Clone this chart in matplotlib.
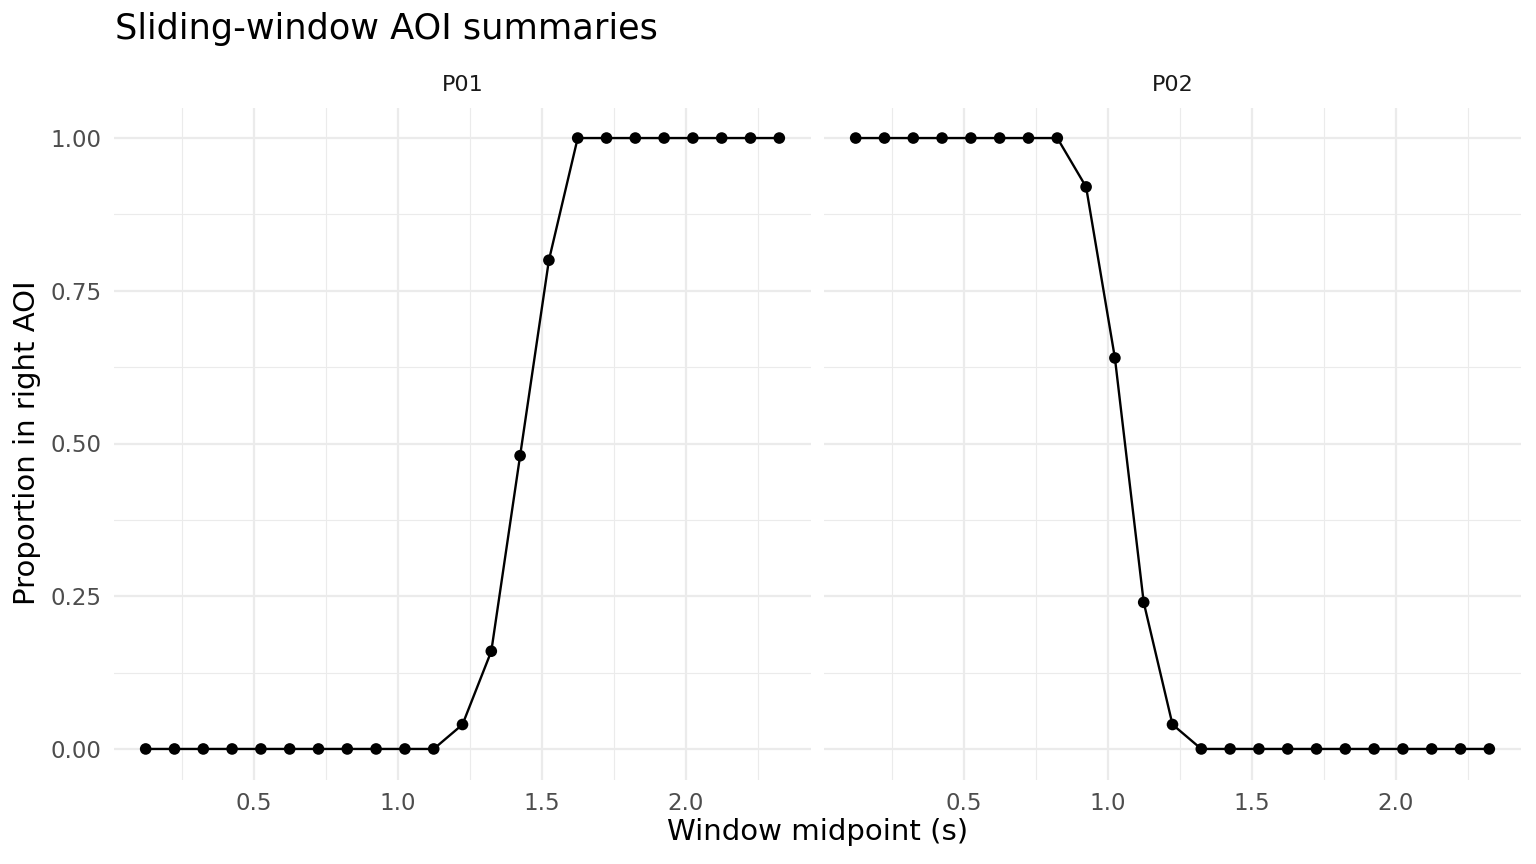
import numpy as np
import matplotlib.pyplot as plt

# window midpoints (s), same for both participants
midpoints = [0.125, 0.225, 0.325, 0.425, 0.525, 0.625, 0.725, 0.825, 0.925, 1.025, 1.125,
             1.225, 1.325, 1.425, 1.525, 1.625, 1.725, 1.825, 1.925, 2.025, 2.125, 2.225, 2.325]

p01_prop = [0, 0, 0, 0, 0, 0, 0, 0, 0, 0, 0,
            0.04, 0.16, 0.48, 0.80, 1, 1, 1, 1, 1, 1, 1, 1]
p02_prop = [1, 1, 1, 1, 1, 1, 1, 1, 0.92, 0.64, 0.24,
            0.04, 0, 0, 0, 0, 0, 0, 0, 0, 0, 0, 0]

panels = ["P01", "P02"]
series = [p01_prop, p02_prop]

x_breaks = [0.5, 1.0, 1.5, 2.0]
x_minor = [0.25, 0.75, 1.25, 1.75, 2.25]
y_breaks = [0.0, 0.25, 0.50, 0.75, 1.00]
y_labels = ["0.00", "0.25", "0.50", "0.75", "1.00"]
y_minor = [0.125, 0.375, 0.625, 0.875]

W, H = 1536, 864
fig = plt.figure(figsize=(W / 100, H / 100), dpi=100)
fig.patch.set_facecolor("white")

grid_col = "#EBEBEB"
tick_col = "#4D4D4D"
bottom, top = 779.5, 107.5
lefts = [(114, 811), (824, 1521)]

for i, (name, vals) in enumerate(zip(panels, series)):
    l, r = lefts[i]
    ax = fig.add_axes([l / W, (H - bottom) / H, (r - l) / W, (bottom - top) / H])
    ax.set_xlim(0.015, 2.435)
    ax.set_ylim(-0.05, 1.05)
    for s in ax.spines.values():
        s.set_visible(False)
    for x in x_minor:
        ax.axvline(x, color=grid_col, lw=0.8, zorder=0)
    for y in y_minor:
        ax.axhline(y, color=grid_col, lw=0.8, zorder=0)
    for x in x_breaks:
        ax.axvline(x, color=grid_col, lw=1.6, zorder=0)
    for y in y_breaks:
        ax.axhline(y, color=grid_col, lw=1.6, zorder=0)

    ax.plot(midpoints, vals, color="black", lw=1.7, zorder=2)
    ax.scatter(midpoints, vals, color="black", s=70, zorder=3, edgecolors="none")

    ax.set_xticks(x_breaks)
    ax.set_xticklabels([f"{v:.1f}" for v in x_breaks])
    ax.set_yticks(y_breaks)
    if i == 0:
        ax.set_yticklabels(y_labels)
    else:
        ax.set_yticklabels([])
    ax.tick_params(length=0, labelsize=16.5, labelcolor=tick_col, pad=9)
    ax.set_title(name, fontsize=16, color="#1A1A1A", pad=12)

fig.text(115 / W, 1 - 29 / H, "Sliding-window AOI summaries", fontsize=25.3,
         ha="left", va="center", color="black")
fig.text((114 + 1521) / 2 / W, 1 - 832 / H, "Window midpoint (s)", fontsize=21,
         ha="center", va="center", color="black")
fig.text(27 / W, 1 - 443 / H, "Proportion in right AOI", fontsize=21,
         ha="center", va="center", rotation=90, color="black")

fig.savefig("out.png", dpi=100)
